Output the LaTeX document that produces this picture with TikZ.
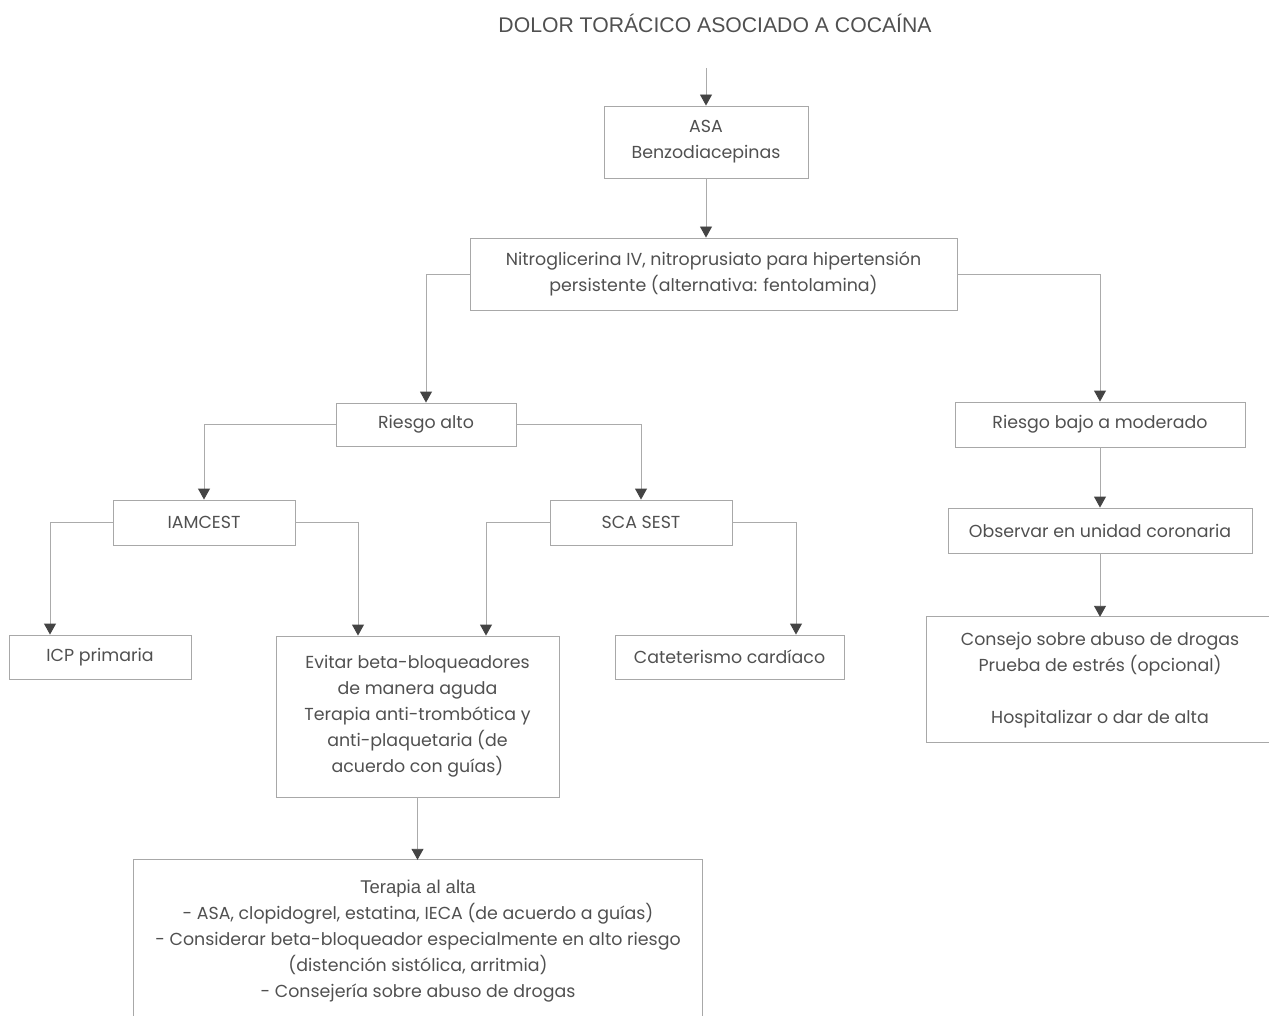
\documentclass[tikz,border=0pt]{standalone}
\usepackage{fontspec}
\setmainfont{Poppins}
\newfontfamily\arialf{Liberation Sans}
\usetikzlibrary{arrows.meta,positioning}
\definecolor{txt}{HTML}{505050}
\definecolor{boxc}{HTML}{A8A8A8}
\definecolor{linec}{HTML}{ABABAB}
\definecolor{tipc}{HTML}{444444}
\begin{document}
\begin{tikzpicture}[x=1pt,y=-1pt,
  every node/.style={text=txt, font=\fontsize{17.4}{26}\selectfont, align=center, inner sep=0pt},
  box/.style={draw=boxc, line width=0.9pt, rectangle},
  arr/.style={draw=linec, line width=0.9pt, -{Triangle[width=12pt,length=11pt,color=tipc]}},
  ]
\useasboundingbox (0,0) rectangle (1269,1016);
\node[font=\arialf\fontsize{21.2}{24}\selectfont] (title) at (715,23) {DOLOR TORÁCICO ASOCIADO A COCAÍNA};
\coordinate (start) at (706,68);
\node[box, minimum width=204pt, minimum height=72pt] (asa) at (706,142) {ASA\\Benzodiacepinas};
\node[box, minimum width=487pt, minimum height=72pt] (nitro) at (713.5,274) {Nitroglicerina IV, nitroprusiato para hipertensión\\persistente (alternativa: fentolamina)};
\node[box, minimum width=180pt, minimum height=43pt] (ralto) at (426,424.5) {Riesgo alto};
\node[box, minimum width=290pt, minimum height=45pt] (rbajo) at (1100,424.5) {Riesgo bajo a moderado};
\node[box, minimum width=182pt, minimum height=45pt] (iam) at (204,522.5) {IAMCEST};
\node[box, minimum width=182pt, minimum height=45pt] (sca) at (641,522.5) {SCA SEST};
\node[box, minimum width=182pt, minimum height=44pt] (icp) at (100,657) {ICP primaria};
\node[box, minimum width=283pt, minimum height=161pt] (evitar) at (417.5,716.5) {Evitar beta-bloqueadores\\de manera aguda\\Terapia anti-trombótica y\\anti-plaquetaria (de\\acuerdo con guías)};
\node[box, minimum width=229pt, minimum height=44pt] (cat) at (729.5,657) {Cateterismo cardíaco};
\node[box, minimum width=304pt, minimum height=45pt] (obs) at (1100,530.5) {Observar en unidad coronaria};
\node[minimum width=568pt, minimum height=156pt] (terapia) at (418,938) {};
\node (terapiatxt) at (418,941) {{\arialf\fontsize{18.5}{26}\selectfont Terapia al alta}\\- ASA, clopidogrel, estatina, IECA (de acuerdo a guías)\\- Considerar beta-bloqueador especialmente en alto riesgo\\(distención sistólica, arritmia)\\- Consejería sobre abuso de drogas};
\node[minimum width=348pt, minimum height=125pt] (consejo) at (1101,679.5) {};
\node (consejotxt) at (1100,680) {Consejo sobre abuso de drogas\\Prueba de estrés (opcional)\\\strut\\Hospitalizar o dar de alta};
\draw[boxc, line width=0.9pt] (terapia.south west) -- (terapia.north west) -- (terapia.north east) -- (terapia.south east);
\draw[boxc, line width=0.9pt] (consejo.north east) -- (consejo.north west) -- (consejo.south west) -- (consejo.south east);
\draw[arr] (start) -- (asa.north);
\draw[arr] (asa.south) -- (asa.south |- nitro.north);
\draw[arr] (nitro.west) -| (ralto.north);
\draw[arr] (nitro.east) -| (rbajo.north);
\draw[arr] (ralto.west) -| (iam.north);
\draw[arr] (ralto.east) -| (sca.north);
\draw[arr] (iam.west) -| ([xshift=-50pt]icp.north);
\draw[arr] (iam.east) -| ([xshift=-59.5pt]evitar.north);
\draw[arr] (sca.west) -| ([xshift=68.5pt]evitar.north);
\draw[arr] (sca.east) -| ([xshift=66.5pt]cat.north);
\draw[arr] (evitar.south) -- (evitar.south |- terapia.north);
\draw[arr] (rbajo.south) -- (obs.north);
\draw[arr] (obs.south) -- (obs.south |- consejo.north);
\end{tikzpicture}
\end{document}
